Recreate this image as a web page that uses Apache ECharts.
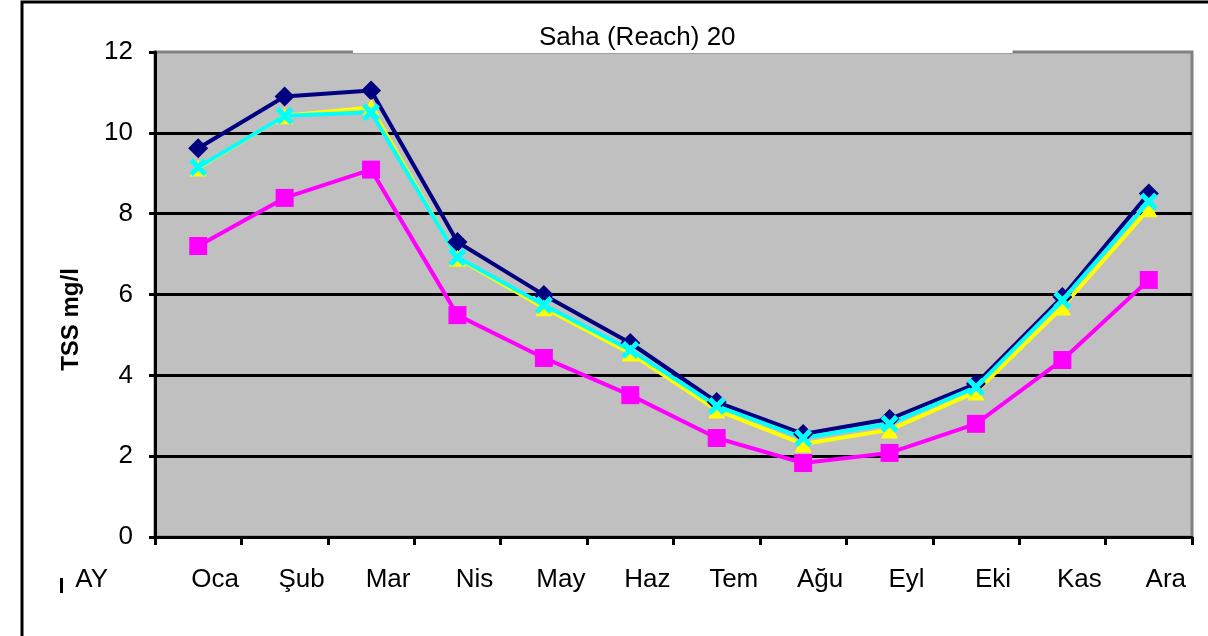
<!DOCTYPE html>
<html>
<head>
<meta charset="utf-8">
<title>Saha (Reach) 20</title>
<script src="https://cdn.jsdelivr.net/npm/echarts@6/dist/echarts.min.js"></script>
<style>
  html, body { margin: 0; padding: 0; background: #fff; }
  #chart { width: 1208px; height: 636px; }
</style>
</head>
<body>
<div id="chart"></div>
<script>
// aylar (x ekseni)
const months = ['Oca', 'Şub', 'Mar', 'Nis', 'May', 'Haz', 'Tem', 'Ağu', 'Eyl', 'Eki', 'Kas', 'Ara']
const yTicks = [0, 2, 4, 6, 8, 10, 12]

// TSS mg/l degerleri
const navyValues = [9.62, 10.9, 11.05, 7.3, 5.99, 4.8, 3.34, 2.55, 2.92, 3.79, 5.94, 8.5]
const magentaValues = [7.2, 8.39, 9.09, 5.49, 4.43, 3.51, 2.45, 1.83, 2.08, 2.8, 4.38, 6.36]
const yellowValues = [9.13, 10.42, 10.63, 6.9, 5.67, 4.55, 3.14, 2.3, 2.65, 3.59, 5.69, 8.12]
const cyanValues = [9.15, 10.42, 10.51, 6.92, 5.74, 4.63, 3.24, 2.45, 2.8, 3.71, 5.86, 8.3]

const font = 'Liberation Sans, Arial, sans-serif'
const xSymbol = 'path://M2,0 L5,3 L8,0 L10,2 L7,5 L10,8 L8,10 L5,7 L2,10 L0,8 L3,5 L0,2 Z'

const chart = echarts.init(document.getElementById('chart'), null, { renderer: 'canvas' })

function lineSeries(data, color, symbol, size) {
  return {
    type: 'line',
    data: data,
    symbol: symbol,
    symbolSize: size,
    showAllSymbol: true,
    lineStyle: { color: color, width: 4 },
    itemStyle: { color: color, borderWidth: 0 },
    animation: false,
  }
}

const option = {
  animation: false,
  backgroundColor: '#ffffff',
  title: {
    text: 'Saha (Reach) 20',
    left: 353,
    top: 4,
    backgroundColor: '#ffffff',
    padding: [21, 277, 2, 186],
    textStyle: { fontFamily: font, fontSize: 26, fontWeight: 'normal', color: '#000' },
  },
  grid: {
    left: 155,
    right: 16,
    top: 52,
    bottom: 99,
    show: true,
    backgroundColor: '#c0c0c0',
    borderColor: '#808080',
    borderWidth: 3,
    z: 0,
  },
  xAxis: {
    type: 'category',
    data: months,
    boundaryGap: true,
    axisLine: { show: true, lineStyle: { color: '#000', width: 3 } },
    axisTick: { show: true, inside: false, length: 8, alignWithLabel: false, lineStyle: { color: '#000', width: 3 } },
    axisLabel: {
      interval: 0,
      margin: 30,
      fontFamily: font,
      fontSize: 26,
      color: '#000',
      padding: [0, 0, 0, 34],
    },
    splitLine: { show: false },
  },
  yAxis: {
    type: 'value',
    min: yTicks[0],
    max: yTicks[yTicks.length - 1],
    interval: 2,
    name: 'TSS mg/l',
    nameLocation: 'middle',
    nameGap: 72,
    nameRotate: 90,
    nameTextStyle: { fontFamily: font, fontSize: 24, fontWeight: 'bold', color: '#000', padding: [0, 50, 0, 0] },
    axisLine: { show: true, lineStyle: { color: '#000', width: 3 } },
    axisTick: { show: true, inside: false, length: 6, lineStyle: { color: '#000', width: 3 } },
    axisLabel: { margin: 22, fontFamily: font, fontSize: 26, color: '#000' },
    splitLine: { show: true, showMaxLine: false, lineStyle: { color: '#000', width: 3 } },
  },
  graphic: [
    {
      // dis cerceve (sadece sol ve ust kenar gorunuyor)
      type: 'rect',
      shape: { x: 22, y: 2, width: 1300, height: 800 },
      style: { fill: 'none', stroke: '#000', lineWidth: 3 },
      silent: true,
      z: 100,
    },
    {
      type: 'rect',
      shape: { x: 60, y: 578, width: 3, height: 15 },
      style: { fill: '#000' },
      silent: true,
    },
    {
      // x ekseni basligi
      type: 'text',
      x: 108,
      y: 580,
      style: {
        text: 'AY',
        fontFamily: font,
        fontSize: 26,
        fill: '#000',
        align: 'right',
        verticalAlign: 'middle',
      },
      silent: true,
    },
  ],
  series: [
    lineSeries(navyValues, '#000080', 'diamond', 20),
    lineSeries(magentaValues, '#ff00ff', 'rect', 18),
    lineSeries(yellowValues, '#ffff00', 'triangle', 17),
    lineSeries(cyanValues, '#00ffff', xSymbol, 18),
  ],
}

chart.setOption(option)
window.addEventListener('resize', () => {
  chart.resize()
})
</script>
</body>
</html>
